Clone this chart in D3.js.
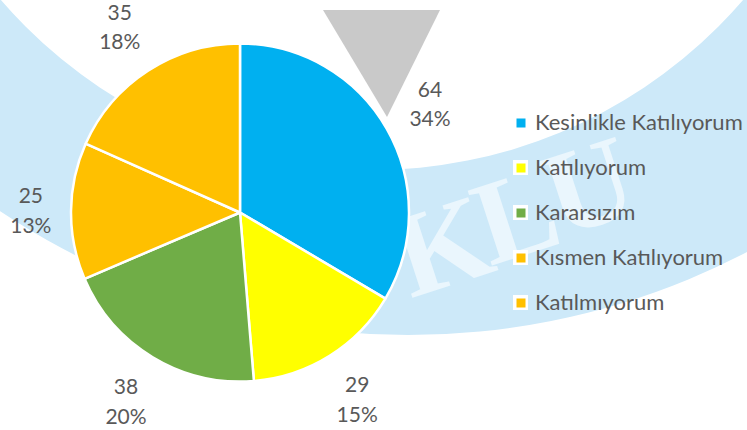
<!DOCTYPE html>
<html>
<head>
<meta charset="utf-8">
<script src="https://cdn.jsdelivr.net/npm/d3@7"></script>
<style>
  html, body { margin: 0; padding: 0; background: #fff; }
  svg { display: block; }
</style>
</head>
<body>
<svg id="chart"></svg>
<script>
const width = 747;
const height = 430;

// veriler
const categories = ["Kesinlikle Katılıyorum", "Katılıyorum", "Kararsızım", "Kısmen Katılıyorum", "Katılmıyorum"];
const values = [64, 29, 38, 25, 35];
const colors = ["#00B0F0", "#FFFF00", "#70AD47", "#FFC000", "#FFC000"];
const watermarkLetters = ["K", "L", "U"];

const svg = d3.select("#chart")
  .attr("width", width)
  .attr("height", height)
  .attr("viewBox", [0, 0, width, height]);

// arka plan filigranı (logo)
const bg = svg.append("g");
const ring = d3.path();
ring.arc(408, -399, 734, 0, 2 * Math.PI);
ring.moveTo(372 + 490, -320);
ring.arc(372, -320, 490, 0, 2 * Math.PI);
bg.append("path")
  .attr("d", ring.toString())
  .attr("fill", "#cde9f9")
  .attr("fill-rule", "evenodd");

bg.append("path")
  .attr("d", d3.line()([[323, 10], [440, 10], [387, 117]]) + "Z")
  .attr("fill", "#c9c9c9");

bg.selectAll("text.wm")
  .data(watermarkLetters)
  .join("text")
  .attr("class", "wm")
  .attr("transform", (d, i) => `translate(${455 + i * 73},${284 - i * 30}) rotate(-18)`)
  .attr("text-anchor", "middle")
  .attr("font-family", "Liberation Serif")
  .attr("font-weight", "bold")
  .attr("font-size", 120)
  .attr("fill", "#eaf6fd")
  .text(d => d);

// pasta grafik
const cx = 240, cy = 212.5, r = 169;
const total = d3.sum(values);
const pie = d3.pie().sort(null).value(d => d);
const arcs = pie(values);
const arc = d3.arc().innerRadius(0).outerRadius(r);

const g = svg.append("g").attr("transform", `translate(${cx},${cy})`);

g.selectAll("path")
  .data(arcs)
  .join("path")
  .attr("d", arc)
  .attr("fill", (d, i) => colors[i])
  .attr("stroke", "#fff")
  .attr("stroke-width", 2.5)
  .attr("stroke-linejoin", "round");

// etiketler (dış uç)
const pct = d3.format(".0%");
const boxW = 40, boxH = 50, pad = 20;
g.selectAll("text.lbl")
  .data(arcs)
  .join("text")
  .attr("class", "lbl")
  .attr("font-family", "Lato, 'Open Sans', sans-serif")
  .attr("font-size", 21)
  .attr("fill", "#595959")
  .attr("text-anchor", "middle")
  .each(function(d) {
    const a = (d.startAngle + d.endAngle) / 2;
    const sx = Math.sin(a), sy = -Math.cos(a);
    const ext = Math.abs(sx) * boxW / 2 + Math.abs(sy) * boxH / 2;
    const x = sx * (r + pad + ext);
    const y = sy * (r + pad + ext);
    const t = d3.select(this);
    t.append("tspan").attr("x", x).attr("y", y - 7.5).text(d.data);
    t.append("tspan").attr("x", x).attr("y", y + 22).text(pct(d.data / total));
  });

// lejant
const legendY = d3.scalePoint().domain(categories).range([130, 310]);
const legend = svg.append("g")
  .selectAll("g")
  .data(categories)
  .join("g")
  .attr("transform", d => `translate(513,${legendY(d)})`);

legend.append("rect")
  .attr("x", 0).attr("y", -15)
  .attr("width", 15).attr("height", 15)
  .attr("fill", "#fff");
legend.append("rect")
  .attr("x", 3.5).attr("y", -11.5)
  .attr("width", 9).attr("height", 9)
  .attr("fill", (d, i) => colors[i]);
legend.append("text")
  .attr("x", 22)
  .attr("y", 0)
  .attr("font-family", "Lato, 'Open Sans', sans-serif")
  .attr("font-size", 22)
  .attr("fill", "#595959")
  .text(d => d);
</script>
</body>
</html>
